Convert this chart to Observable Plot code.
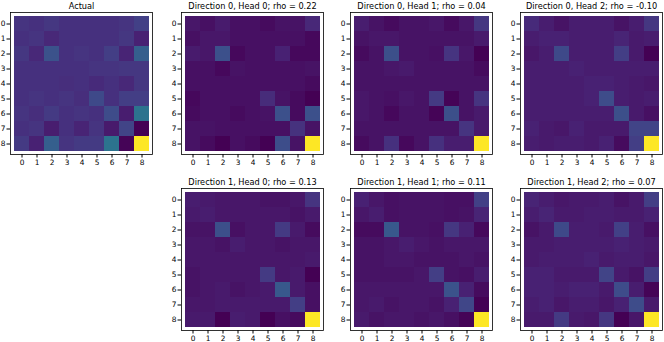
<!DOCTYPE html>
<html>
<head>
<meta charset="utf-8">
<script src="https://cdn.jsdelivr.net/npm/d3@7"></script>
<script src="https://cdn.jsdelivr.net/npm/@observablehq/plot@0.6"></script>
<style>
  html, body { margin: 0; padding: 0; background: #fff; overflow: hidden; }
  #root { position: relative; width: 664px; height: 342px; overflow: hidden; font-family: "DejaVu Sans", sans-serif; }
  #root > svg { position: absolute; overflow: visible; }
</style>
</head>
<body>
<div id="root"></div>
<script>
const ticks = [0, 1, 2, 3, 4, 5, 6, 7, 8];

const titles = [
  "Actual",
  "Direction 0, Head 0; rho = 0.22",
  "Direction 0, Head 1; rho = 0.04",
  "Direction 0, Head 2; rho = -0.10",
  "Direction 1, Head 0; rho = 0.13",
  "Direction 1, Head 1; rho = 0.11",
  "Direction 1, Head 2; rho = 0.07"
];

const actual = [
  [0.15,0.14,0.16,0.14,0.14,0.14,0.14,0.15,0.19],
  [0.14,0.15,0.11,0.14,0.14,0.14,0.14,0.16,0.09],
  [0.16,0.11,0.25,0.14,0.15,0.14,0.18,0.10,0.30],
  [0.14,0.14,0.14,0.14,0.14,0.15,0.15,0.16,0.16],
  [0.14,0.14,0.14,0.13,0.14,0.12,0.14,0.11,0.16],
  [0.14,0.15,0.14,0.15,0.13,0.22,0.14,0.18,0.18],
  [0.15,0.13,0.17,0.14,0.15,0.14,0.23,0.08,0.38],
  [0.14,0.15,0.08,0.14,0.10,0.15,0.07,0.20,0.00],
  [0.17,0.09,0.30,0.15,0.17,0.17,0.38,0.01,1.00]
];

const d0h0 = [
  [0.07,0.05,0.08,0.05,0.05,0.04,0.06,0.06,0.12],
  [0.05,0.07,0.07,0.05,0.05,0.05,0.05,0.05,0.03],
  [0.08,0.07,0.25,0.03,0.05,0.05,0.10,0.03,0.03],
  [0.05,0.05,0.03,0.06,0.05,0.05,0.05,0.05,0.06],
  [0.05,0.05,0.05,0.05,0.05,0.05,0.05,0.05,0.04],
  [0.03,0.05,0.05,0.05,0.05,0.13,0.06,0.04,0.01],
  [0.04,0.05,0.05,0.04,0.05,0.06,0.25,0.04,0.25],
  [0.06,0.06,0.05,0.05,0.05,0.05,0.05,0.15,0.06],
  [0.06,0.04,0.01,0.05,0.04,0.01,0.24,0.06,1.00]
];

const d0h1 = [
  [0.08,0.05,0.03,0.05,0.05,0.06,0.03,0.06,0.16],
  [0.05,0.06,0.06,0.05,0.05,0.05,0.05,0.05,0.07],
  [0.03,0.05,0.24,0.05,0.05,0.04,0.15,0.06,0.00],
  [0.05,0.05,0.06,0.07,0.05,0.05,0.05,0.05,0.03],
  [0.05,0.05,0.05,0.05,0.05,0.05,0.05,0.05,0.05],
  [0.06,0.05,0.04,0.06,0.05,0.17,0.01,0.05,0.15],
  [0.06,0.05,0.02,0.05,0.05,0.01,0.24,0.05,0.07],
  [0.05,0.05,0.05,0.05,0.05,0.05,0.05,0.15,0.07],
  [0.03,0.05,0.14,0.02,0.05,0.14,0.08,0.08,1.00]
];

const d0h2 = [
  [0.12,0.08,0.05,0.08,0.08,0.08,0.05,0.08,0.16],
  [0.08,0.09,0.09,0.08,0.08,0.08,0.10,0.07,0.08],
  [0.06,0.08,0.22,0.08,0.08,0.08,0.18,0.07,0.00],
  [0.08,0.08,0.08,0.09,0.08,0.08,0.08,0.08,0.08],
  [0.08,0.08,0.08,0.08,0.09,0.09,0.08,0.07,0.06],
  [0.08,0.08,0.08,0.08,0.09,0.23,0.08,0.07,0.08],
  [0.08,0.08,0.08,0.08,0.08,0.08,0.24,0.07,0.04],
  [0.09,0.07,0.06,0.09,0.07,0.07,0.07,0.20,0.20],
  [0.08,0.07,0.08,0.08,0.07,0.09,0.03,0.18,1.00]
];

const d1h0 = [
  [0.08,0.07,0.06,0.06,0.06,0.05,0.05,0.06,0.15],
  [0.07,0.08,0.06,0.06,0.06,0.06,0.06,0.05,0.07],
  [0.05,0.05,0.24,0.04,0.06,0.06,0.17,0.07,0.03],
  [0.06,0.06,0.05,0.08,0.06,0.06,0.05,0.06,0.06],
  [0.06,0.06,0.06,0.06,0.06,0.06,0.06,0.06,0.07],
  [0.05,0.06,0.06,0.06,0.06,0.17,0.06,0.07,0.00],
  [0.05,0.06,0.07,0.05,0.06,0.07,0.27,0.07,0.04],
  [0.06,0.06,0.07,0.07,0.07,0.07,0.07,0.18,0.04],
  [0.07,0.07,0.00,0.08,0.07,0.00,0.04,0.03,1.00]
];

const d1h1 = [
  [0.09,0.06,0.04,0.05,0.05,0.05,0.04,0.04,0.19],
  [0.06,0.08,0.04,0.05,0.05,0.05,0.04,0.05,0.10],
  [0.03,0.03,0.27,0.05,0.05,0.04,0.16,0.09,0.02],
  [0.05,0.05,0.06,0.08,0.06,0.05,0.06,0.06,0.06],
  [0.05,0.05,0.06,0.06,0.05,0.05,0.05,0.06,0.05],
  [0.05,0.05,0.05,0.05,0.06,0.18,0.05,0.04,0.08],
  [0.06,0.06,0.06,0.06,0.06,0.06,0.25,0.09,0.03],
  [0.06,0.07,0.05,0.06,0.06,0.05,0.09,0.21,0.00],
  [0.07,0.05,0.06,0.06,0.05,0.06,0.04,0.01,1.00]
];

const d1h2 = [
  [0.10,0.08,0.06,0.07,0.07,0.08,0.05,0.07,0.18],
  [0.08,0.10,0.07,0.07,0.08,0.08,0.07,0.07,0.09],
  [0.05,0.07,0.22,0.08,0.08,0.07,0.19,0.08,0.04],
  [0.07,0.07,0.08,0.08,0.08,0.08,0.09,0.08,0.07],
  [0.07,0.08,0.08,0.08,0.09,0.07,0.08,0.08,0.06],
  [0.09,0.09,0.07,0.07,0.07,0.20,0.07,0.05,0.18],
  [0.09,0.09,0.08,0.09,0.09,0.07,0.23,0.08,0.01],
  [0.08,0.09,0.06,0.08,0.08,0.06,0.09,0.23,0.07],
  [0.07,0.07,0.17,0.07,0.06,0.16,0.00,0.06,1.00]
];

const matrices = [actual, d0h0, d0h1, d0h2, d1h0, d1h1, d1h2];

// layout (frame positions in page pixels)
const S = 142;
const lefts = [9.5, 180.5, 350.3, 520.3, 180.5, 350.3, 520.3];
const tops = [11.7, 11.7, 11.7, 11.7, 187.5, 187.5, 187.5];
const mL = 20, mT = 14, mR = 6, mB = 16;

const root = document.getElementById("root");

matrices.forEach((m, i) => {
  const cells = m.flatMap((row, r) => row.map((v, c) => ({row: r, col: c, value: v})));
  const vals = cells.map(d => d.value);
  const svg = Plot.plot({
    width: mL + S + mR,
    height: mT + S + mB,
    marginLeft: mL, marginTop: mT, marginRight: mR, marginBottom: mB,
    style: {fontFamily: "DejaVu Sans, sans-serif", fontSize: "7.4px", color: "#000", background: "transparent", overflow: "visible"},
    x: {domain: ticks, padding: 0, label: null, tickSize: 3.5, tickPadding: 1.5},
    y: {domain: ticks, padding: 0, label: null, tickSize: 3.5, tickPadding: 1.5},
    color: {type: "linear", scheme: "viridis", domain: [d3.min(vals), d3.max(vals)]},
    marks: [
      Plot.cell(cells, {x: "col", y: "row", fill: "value", inset: 0}),
      Plot.frame({stroke: "#000", strokeWidth: 0.8}),
      Plot.text([titles[i]], {text: d => d, frameAnchor: "top", dy: -4, lineAnchor: "bottom", fontSize: 8.2, fontWeight: "normal", fill: "#000"})
    ]
  });
  svg.style.left = (lefts[i] - mL) + "px";
  svg.style.top = (tops[i] - mT) + "px";
  root.appendChild(svg);
});
</script>
</body>
</html>
